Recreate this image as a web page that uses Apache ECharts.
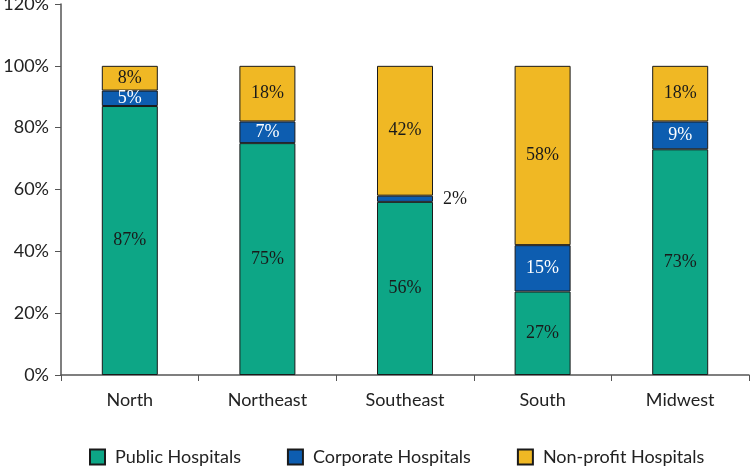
<!DOCTYPE html>
<html><head><meta charset="utf-8">
<script src="https://cdn.jsdelivr.net/npm/echarts@6/dist/echarts.min.js"></script>
<style>html,body{margin:0;padding:0;background:#fff}#c{width:750px;height:469px}</style>
</head><body><div id="c"></div>
<script>
var categories = ['North', 'Northeast', 'Southeast', 'South', 'Midwest'];
var publicHospitals = [87, 75, 56, 27, 73];
var corporateHospitals = [5, 7, 2, 15, 9];
var nonprofitHospitals = [8, 18, 42, 58, 18];
var yTicks = [0, 20, 40, 60, 80, 100, 120];

var sansFont = 'Lato';
var serifFont = 'Liberation Serif';
function lbl(color) {
  return { show: true, position: 'inside', formatter: '{c}%', color: color, fontFamily: serifFont, fontSize: 18 };
}
var chart = echarts.init(document.getElementById('c'));
chart.setOption({
  animation: false,
  grid: { left: 61, right: 1, top: 4, bottom: 94, containLabel: false, outerBoundsMode: 'none' },
  legend: {
    left: 89, top: 448, padding: 0, itemWidth: 15, itemHeight: 15, itemGap: 46, icon: 'rect',
    textStyle: { fontFamily: sansFont, fontSize: 18, color: '#222', padding: [0, 0, 0, 5] },
    data: ['Public Hospitals', 'Corporate Hospitals', 'Non-profit Hospitals']
  },
  xAxis: {
    type: 'category', data: categories,
    axisLine: { lineStyle: { color: '#555', width: 1.5 } },
    axisTick: { show: true, length: 6, inside: false, lineStyle: { color: '#555' } },
    axisLabel: { fontFamily: sansFont, fontSize: 18, color: '#222', margin: 16 }
  },
  yAxis: {
    type: 'value', min: yTicks[0], max: yTicks[yTicks.length - 1], interval: 20,
    splitLine: { show: false },
    axisLine: { show: true, lineStyle: { color: '#555', width: 1.5 } },
    axisTick: { show: true, length: 6, lineStyle: { color: '#555' } },
    axisLabel: { formatter: '{value}%', fontFamily: sansFont, fontSize: 18, color: '#222', margin: 12 }
  },
  series: [
    { name: 'Public Hospitals', type: 'bar', stack: 'a', barWidth: 56, data: publicHospitals,
      itemStyle: { color: '#0DA686', borderColor: '#1a1a1a', borderWidth: 1 }, label: lbl('#1a1a1a') },
    { name: 'Corporate Hospitals', type: 'bar', stack: 'a', barWidth: 56,
      data: corporateHospitals.map(function (v, i) {
        return categories[i] === 'Southeast'
          ? { value: v, label: { position: 'right', color: '#1a1a1a', distance: 10 } }
          : v;
      }),
      itemStyle: { color: '#0D5DB0', borderColor: '#1a1a1a', borderWidth: 1 }, label: lbl('#ffffff') },
    { name: 'Non-profit Hospitals', type: 'bar', stack: 'a', barWidth: 56, data: nonprofitHospitals,
      itemStyle: { color: '#F0B824', borderColor: '#1a1a1a', borderWidth: 1 }, label: lbl('#1a1a1a') }
  ]
});
</script></body></html>
